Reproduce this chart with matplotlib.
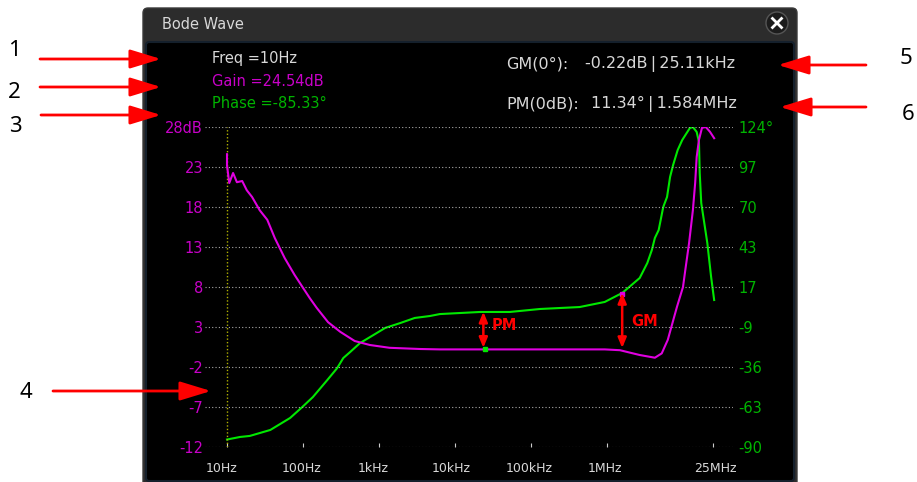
import numpy as np
import matplotlib
matplotlib.use("Agg")
import matplotlib.pyplot as plt
from matplotlib.patches import FancyBboxPatch, Circle
from matplotlib.transforms import ScaledTranslation

plt.rcParams['font.family'] = ['DejaVu Sans']

# curves, frequency as log10(Hz)
gain_logf = [1.00, 1.00, 1.03, 1.08, 1.13, 1.20, 1.26, 1.33, 1.43, 1.53, 1.63, 1.76, 1.89, 2.00, 2.09, 2.18,
             2.33, 2.49, 2.68, 2.88, 3.14, 3.54, 3.80, 4.38, 5.97, 6.17, 6.43, 6.63, 6.72, 6.80, 6.92,
             7.00, 7.03, 7.08, 7.13, 7.16, 7.18, 7.21, 7.25, 7.30, 7.355, 7.41]
gain_db = [24.6, 23.2, 21.0, 22.25, 21.1, 21.25, 20.1, 19.25, 17.6, 16.4, 14.1, 11.6, 9.5, 7.9, 6.6, 5.4,
           3.6, 2.4, 1.25, 0.75, 0.4, 0.25, 0.2, 0.2, 0.2, 0.1, -0.5, -0.84, -0.3, 1.4, 5.5,
           8.0, 10.1, 13.5, 17.6, 21.0, 24.25, 26.4, 27.9, 28.0, 27.4, 26.6]
phase_logf = [1.00, 1.17, 1.30, 1.57, 1.83, 1.99, 2.13, 2.32, 2.45, 2.53, 2.62, 2.75, 2.95, 3.08, 3.28, 3.47,
              3.67, 3.80, 4.33, 4.72, 5.12, 5.64, 5.97, 6.20, 6.43, 6.53, 6.59, 6.63, 6.68, 6.74, 6.79, 6.83,
              6.87, 6.93, 6.99, 7.09, 7.13, 7.18, 7.21, 7.22, 7.24, 7.32, 7.37, 7.41]
phase_deg = [-85, -83.3, -82.6, -78.6, -70.6, -63.3, -56.6, -45.2, -37.2, -30.5, -26.5, -20.5, -14.4, -10.4, -7.1, -3.7,
             -2.4, -1.1, 0.3, 0.3, 2.3, 3.6, 7, 13, 23, 33, 41.7, 49.8, 55.1, 70.5, 77.2, 90.6,
             98.6, 108.6, 115.3, 123.3, 124, 120.7, 114, 93.2, 73.2, 46.4, 23.7, 8.3]

freq_ticks = [10, 100, 1e3, 1e4, 1e5, 1e6, 25e6]
freq_labels = ["10Hz", "100Hz", "1kHz", "10kHz", "100kHz", "1MHz", "25MHz"]
freq_label_shift = [-5, -1, -6, -4, -2, -2, 2]
gain_ticks = [28, 23, 18, 13, 8, 3, -2, -7, -12]
gain_labels = ["28dB", "23", "18", "13", "8", "3", "-2", "-7", "-12"]
phase_labels = ["124°", "97", "70", "43", "17", "-9", "-36", "-63", "-90"]

# margin readings
pm_freq = 25.11e3
pm_gain = [0.4, 4.9]
pm_marker = 0.2
gm_freq = 1.584e6
gm_gain = [0.375, 7.25]
gm_marker = 7.1

W, H = 917, 482
MAGENTA = '#e000e0'
GREEN = '#00e800'
TXT_M = '#c800c8'
TXT_G = '#00b400'
GREY = '#d8d8d8'

fig = plt.figure(figsize=(W / 100, H / 100), dpi=100, facecolor='white')

# window behind the plot
bg = fig.add_axes([0, 0, 1, 1], zorder=0)
bg.set_xlim(0, W)
bg.set_ylim(H, 0)
bg.axis('off')
bg.add_patch(FancyBboxPatch((143, 8), 654, 490, boxstyle="round,pad=0,rounding_size=5", fc='#2c2c2c', ec='#3a3a3a', lw=1))
bg.add_patch(FancyBboxPatch((146, 42), 648, 439, boxstyle="round,pad=0,rounding_size=3", fc='black', ec='#15202c', lw=1.5))
bg.add_patch(Circle((777, 23), 11, fc='#1c1c1c', ec='#555555', lw=1))
bg.plot([772.5, 781.5], [18.5, 27.5], color='white', lw=2)
bg.plot([772.5, 781.5], [27.5, 18.5], color='white', lw=2)
bg.text(162, 24.5, "Bode Wave", color=GREY, fontsize=10.5, va='center')

# plot area, pixel edges 205..733 and 127..447
ax = fig.add_axes([205 / W, 1 - 447 / H, 528 / W, 320 / H], zorder=2)
ax.patch.set_alpha(0)
ax.set_xscale('log')
ax.set_xlim(10 ** (1 - 22 / 76), 10 ** (1 + 506 / 76))
ax.set_ylim(-12, 28)
ax.set_xticks(freq_ticks)
ax.set_xticklabels(freq_labels, color=GREY, fontsize=9)
ax.minorticks_off()
ax.set_yticks(gain_ticks)
ax.set_yticklabels(gain_labels, color=TXT_M, fontsize=10.5)
ax.tick_params(axis='x', direction='in', length=3, color='#cccccc', width=0.8, pad=11)
ax.tick_params(axis='y', length=0, pad=1.5)
ax.grid(axis='y', color='#a8a8a8', lw=0.8, ls=(0, (1, 2)))
for s in ax.spines.values():
    s.set_visible(False)
for lab, dx in zip(ax.get_xticklabels(), freq_label_shift):
    lab.set_transform(lab.get_transform() + ScaledTranslation(dx / 100, 0, fig.dpi_scale_trans))

ax2 = ax.twinx()
ax2.set_zorder(1)
ax2.patch.set_alpha(0)
ax2.set_ylim(-90, 124)
ax2.set_yticks(np.linspace(124, -90, 9))
ax2.set_yticklabels(phase_labels, color=TXT_G, fontsize=10.5)
ax2.tick_params(axis='y', length=0, pad=4)
for s in ax2.spines.values():
    s.set_visible(False)

ax.plot([10, 10], [-12, 28], color='#b0b000', lw=1, ls=(0, (1, 1.5)))
ax2.plot(10 ** np.array(phase_logf), phase_deg, color=GREEN, lw=1.5)
ax.plot(10 ** np.array(gain_logf), gain_db, color=MAGENTA, lw=1.5)

# PM / GM markers
ax.plot([pm_freq], [pm_marker], 's', color=GREEN, ms=3.5)
ax.plot([gm_freq], [gm_marker], 's', color=MAGENTA, ms=3.5)
arrow = dict(arrowstyle='<|-|>,head_width=0.25,head_length=0.6', color='red', lw=1.8, shrinkA=0, shrinkB=0)
ax.annotate("", xy=(pm_freq * 0.94, pm_gain[0]), xytext=(pm_freq * 0.94, pm_gain[1]), arrowprops=arrow)
ax.annotate("", xy=(gm_freq, gm_gain[0]), xytext=(gm_freq, gm_gain[1]), arrowprops=arrow)

# overlay in pixels for readouts and callouts
top = fig.add_axes([0, 0, 1, 1], zorder=3)
top.set_xlim(0, W)
top.set_ylim(H, 0)
top.axis('off')
top.text(504, 326, "PM", color='red', fontsize=10.5, fontweight='bold', ha='center', va='center')
top.text(645, 322, "GM", color='red', fontsize=10.5, fontweight='bold', ha='center', va='center')
top.text(212, 59, "Freq =10Hz", color=GREY, fontsize=10.5, va='center')
top.text(212, 81, "Gain =24.54dB", color=TXT_M, fontsize=10.5, va='center')
top.text(212, 104, "Phase =-85.33°", color=TXT_G, fontsize=10.5, va='center')
top.text(506, 64, "GM(0°):", color=GREY, fontsize=11.5, va='center')
top.text(585, 64, "-0.22dB\u2009|\u200925.11kHz", color=GREY, fontsize=11.5, va='center')
top.text(506, 104, "PM(0dB):", color=GREY, fontsize=11.5, va='center')
top.text(591, 104, "11.34°\u2009|\u20091.584MHz", color=GREY, fontsize=11.5, va='center')

# numbered callouts
callouts = [("1", 14, 51, 40, 161, 59), ("2", 14, 92, 40, 161, 87), ("3", 15, 127, 41, 161, 115),
            ("4", 26, 393, 53, 211, 391), ("5", 906, 59, 866, 778, 65), ("6", 908, 114, 866, 780, 107)]
for num, nx, ny, x0, x1, y in callouts:
    top.text(nx, ny, num, color='black', fontsize=16, family='Noto Sans', ha='center', va='center')
    top.annotate("", xy=(x1, y), xytext=(x0, y),
                 arrowprops=dict(arrowstyle='-|>,head_width=0.58,head_length=1.9', color='red', lw=2, shrinkA=0, shrinkB=0))

fig.savefig("out.png", dpi=100)
